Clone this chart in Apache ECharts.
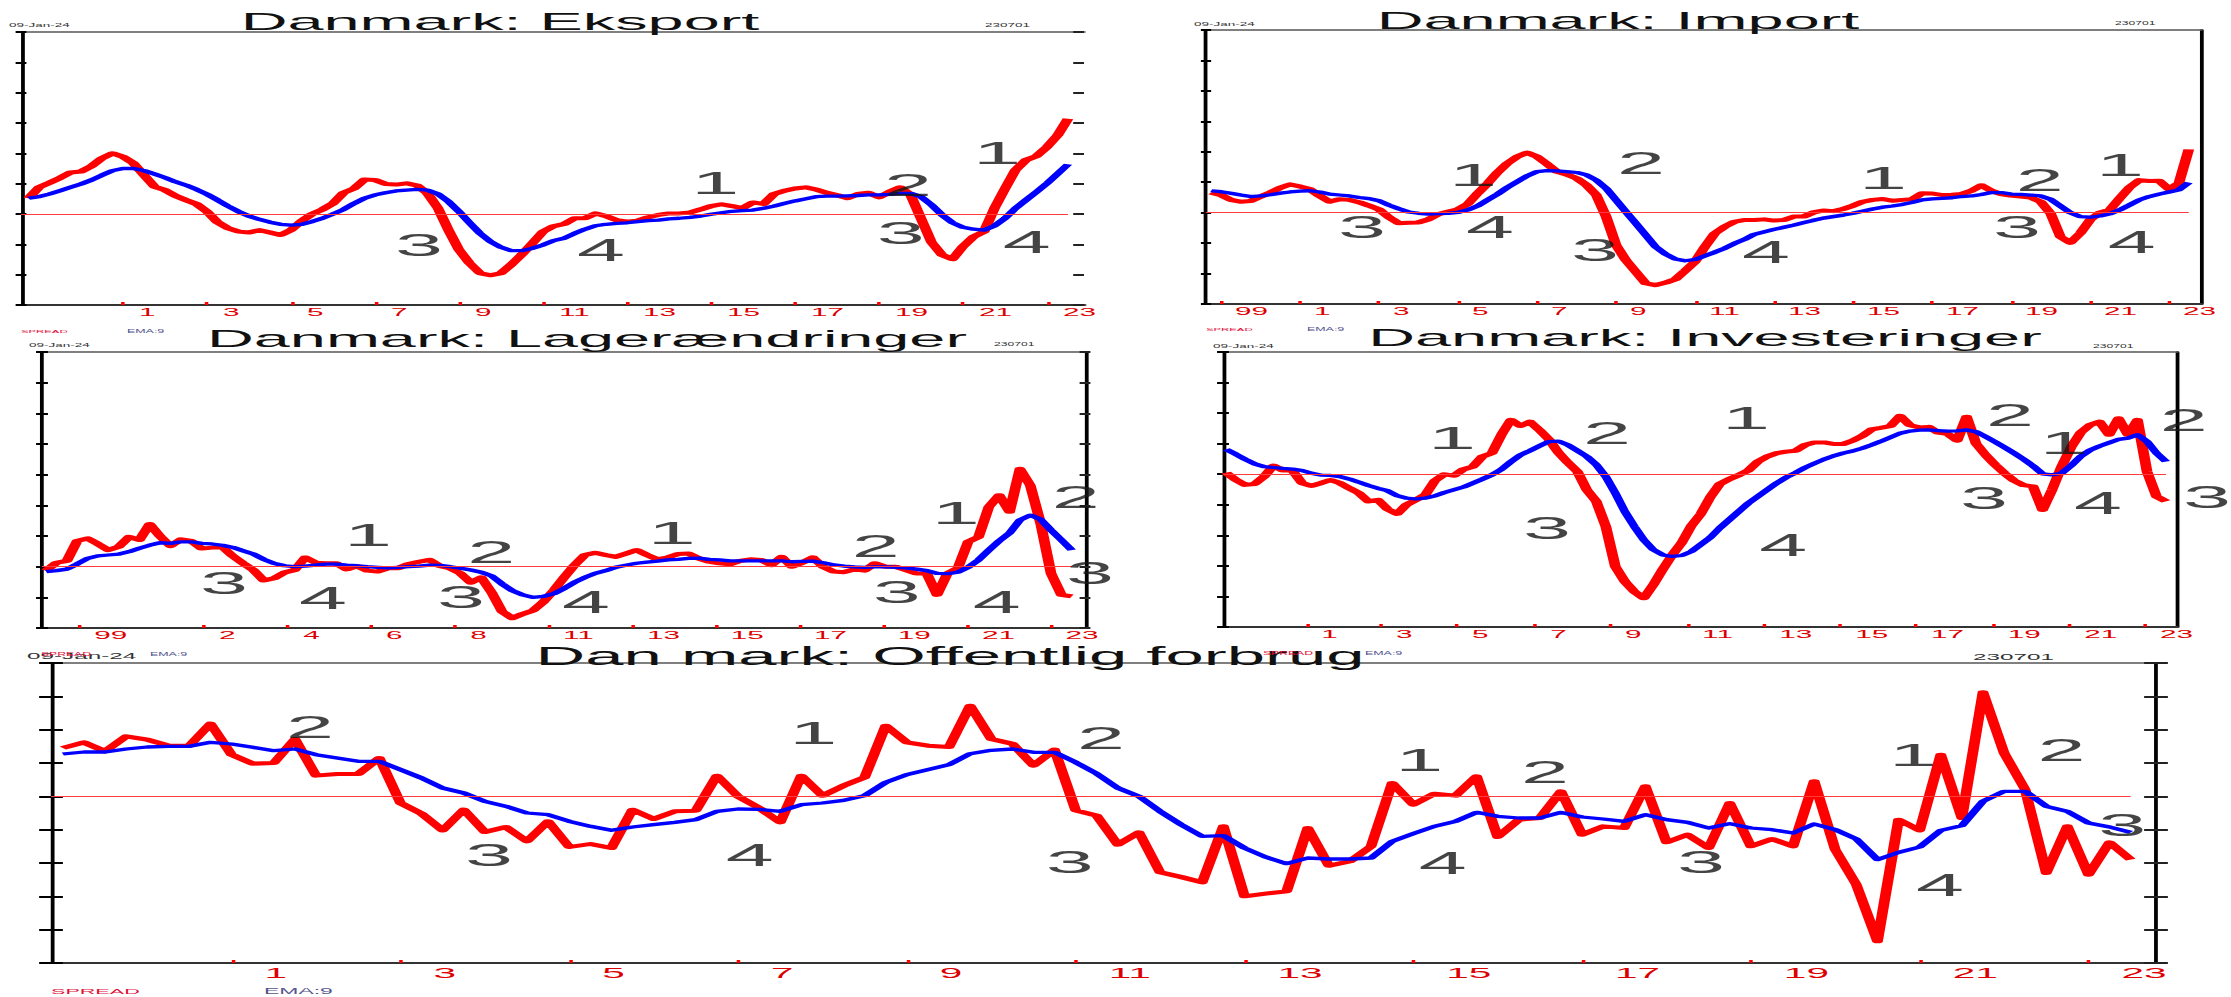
<!DOCTYPE html>
<html><head><meta charset="utf-8">
<script src="https://cdn.jsdelivr.net/npm/echarts@6/dist/echarts.min.js"></script>
<style>
html,body{margin:0;padding:0;background:#fff;overflow:hidden;width:2231px;height:997px}
#chart{height:997px;transform-origin:0 0;}
</style>
</head><body><div id="chart"></div><script>
// ---------------- DATA (quarterly values, in axis-tick units; 0 = red reference line) ----------------
const eksportStart = 1998.75;
const eksportSpread = [0.52,0.88,1.03,1.19,1.37,1.40,1.58,1.84,2.00,1.89,
 1.67,1.28,0.90,0.79,0.60,0.46,0.33,0.08,-0.27,-0.47,
 -0.58,-0.61,-0.53,-0.61,-0.69,-0.53,-0.23,0.00,0.15,0.35,
 0.70,0.84,1.14,1.12,0.99,0.97,1.01,0.94,0.68,0.19,
 -0.53,-1.18,-1.62,-1.95,-2.02,-1.95,-1.66,-1.33,-0.96,-0.58,
 -0.40,-0.33,-0.14,-0.14,0.02,-0.07,-0.20,-0.25,-0.22,-0.11,
 -0.03,0.02,0.02,0.05,0.15,0.26,0.32,0.26,0.19,0.38,
 0.33,0.66,0.77,0.84,0.88,0.81,0.70,0.62,0.52,0.66,
 0.70,0.55,0.73,0.88,0.64,-0.15,-0.93,-1.35,-1.49,-1.07,
 -0.75,-0.58,0.19,0.84,1.45,1.78,1.91,2.21,2.59,3.14];
const eksportEma = [0.52,0.57,0.66,0.77,0.88,0.99,1.12,1.28,1.43,1.50,
 1.50,1.43,1.32,1.20,1.06,0.95,0.81,0.65,0.46,0.26,
 0.08,-0.07,-0.18,-0.27,-0.34,-0.37,-0.34,-0.25,-0.14,0.00,
 0.15,0.35,0.52,0.63,0.70,0.76,0.79,0.81,0.79,0.66,
 0.41,0.08,-0.29,-0.64,-0.91,-1.10,-1.21,-1.21,-1.13,-1.02,
 -0.88,-0.80,-0.64,-0.50,-0.39,-0.34,-0.31,-0.29,-0.25,-0.22,
 -0.20,-0.16,-0.14,-0.11,-0.07,-0.01,0.04,0.09,0.11,0.13,
 0.19,0.26,0.35,0.43,0.50,0.57,0.59,0.59,0.60,0.61,
 0.63,0.63,0.65,0.68,0.68,0.57,0.30,-0.03,-0.29,-0.44,
 -0.50,-0.53,-0.39,-0.14,0.19,0.46,0.73,1.01,1.32,1.64];
const eksportTicks = [2001,2003,2005,2007,2009,2011,2013,2015,2017,2019,2021,2023];
const eksportTickLabels = ['1','3','5','7','9','11','13','15','17','19','21','23'];
const eksportMarks = [[2008.05,-1.02,'3'],[2012.38,-1.18,'4'],[2015.10,1.02,'1'],[2019.69,0.95,'2'],[2019.52,-0.62,'3'],[2021.81,2.00,'1'],[2022.52,-0.92,'4']];

const importStart = 1998.75;
const importSpread = [0.66,0.58,0.42,0.36,0.38,0.53,0.66,0.82,0.93,0.86,
 0.77,0.55,0.36,0.44,0.42,0.34,0.23,0.11,-0.15,-0.35,
 -0.33,-0.32,-0.22,-0.05,0.03,0.11,0.29,0.64,0.96,1.32,
 1.62,1.84,1.97,1.84,1.60,1.35,1.26,1.13,0.91,0.58,
 -0.13,-1.06,-1.56,-1.94,-2.32,-2.38,-2.30,-2.19,-1.91,-1.61,
 -1.12,-0.68,-0.46,-0.30,-0.24,-0.24,-0.22,-0.26,-0.24,-0.13,
 -0.13,0.01,0.07,0.05,0.12,0.23,0.36,0.42,0.45,0.39,
 0.42,0.44,0.64,0.63,0.58,0.59,0.61,0.72,0.90,0.72,
 0.61,0.56,0.53,0.50,0.36,-0.02,-0.79,-0.99,-0.68,-0.24,
 0.00,0.09,0.47,0.83,1.07,1.04,1.05,0.77,0.97,2.08];
const importEma = [0.72,0.69,0.64,0.58,0.53,0.55,0.59,0.64,0.68,0.71,
 0.72,0.68,0.61,0.58,0.55,0.50,0.46,0.39,0.25,0.13,
 0.02,-0.02,-0.05,-0.03,-0.02,0.01,0.09,0.22,0.42,0.61,
 0.83,1.02,1.21,1.35,1.38,1.37,1.35,1.32,1.24,1.07,
 0.80,0.42,0.03,-0.35,-0.73,-1.12,-1.36,-1.52,-1.58,-1.54,
 -1.42,-1.30,-1.17,-1.01,-0.88,-0.71,-0.63,-0.55,-0.48,-0.41,
 -0.33,-0.25,-0.18,-0.13,-0.08,-0.02,0.05,0.12,0.18,0.22,
 0.27,0.34,0.42,0.45,0.47,0.49,0.53,0.55,0.60,0.66,
 0.66,0.61,0.60,0.58,0.55,0.44,0.22,0.00,-0.13,-0.15,
 -0.11,-0.04,0.09,0.25,0.42,0.53,0.61,0.68,0.75,0.99];
const importTicks = [1999,2001,2003,2005,2007,2009,2011,2013,2015,2017,2019,2021,2023];
const importTickLabels = ['99','1','3','5','7','9','11','13','15','17','19','21','23'];
const importMarks = [[2002.57,-0.47,'3'],[2005.38,1.24,'1'],[2005.81,-0.47,'4'],[2009.63,1.63,'2'],[2008.47,-1.23,'3'],[2012.80,-1.29,'4'],[2015.76,1.14,'1'],[2019.73,1.08,'2'],[2019.15,-0.47,'3'],[2021.76,1.57,'1'],[2022.06,-0.96,'4']];

const lagerStart = 1998.75;
const lagerSpread = [-0.13,0.13,0.19,0.84,0.92,0.74,0.54,0.65,0.97,0.87,
 1.39,0.99,0.67,0.89,0.84,0.59,0.62,0.65,0.35,0.11,
 -0.11,-0.45,-0.38,-0.19,-0.11,0.30,0.13,0.11,0.11,-0.09,
 0.02,-0.13,-0.16,-0.05,-0.05,0.09,0.16,0.22,0.02,-0.05,
 -0.22,-0.52,-0.35,-0.84,-1.46,-1.68,-1.54,-1.43,-1.15,-0.77,
 -0.35,0.05,0.38,0.45,0.38,0.32,0.43,0.54,0.38,0.24,
 0.30,0.41,0.43,0.27,0.16,0.11,0.08,0.19,0.24,0.22,
 0.05,0.32,0.00,0.13,0.30,0.00,-0.16,-0.18,-0.09,-0.13,
 0.11,0.00,0.00,-0.11,-0.22,-0.22,-0.92,-0.22,-0.05,0.81,
 0.97,1.95,2.33,1.79,3.19,2.65,1.41,-0.22,-0.92,-0.97];
const lagerEma = [-0.16,-0.13,-0.08,0.09,0.27,0.35,0.38,0.41,0.49,0.60,
 0.70,0.78,0.76,0.81,0.81,0.76,0.74,0.70,0.63,0.52,
 0.41,0.24,0.11,0.03,0.00,0.02,0.05,0.08,0.08,0.05,
 0.03,0.00,-0.02,-0.04,-0.02,0.00,0.02,0.05,0.04,0.00,
 -0.05,-0.11,-0.18,-0.30,-0.56,-0.78,-0.92,-1.00,-0.97,-0.88,
 -0.71,-0.51,-0.35,-0.22,-0.13,-0.02,0.05,0.11,0.15,0.18,
 0.22,0.24,0.27,0.28,0.24,0.22,0.19,0.19,0.19,0.19,
 0.19,0.19,0.16,0.17,0.18,0.13,0.06,0.02,-0.01,-0.02,
 -0.01,-0.01,-0.02,-0.04,-0.08,-0.13,-0.22,-0.23,-0.18,-0.02,
 0.22,0.54,0.84,1.10,1.52,1.68,1.54,1.19,0.87,0.54];
const lagerTicks = [1999.55,2002.56,2004.59,2006.59,2008.62,2010.86,2012.89,2014.91,2016.92,2018.94,2020.97,2022.99];
const lagerTickLabels = ['99','2','4','6','8','11','13','15','17','19','21','23'];
const lagerMarks = [[2003.04,-0.53,'3'],[2006.52,1.03,'1'],[2005.43,-1.02,'4'],[2009.49,0.48,'2'],[2008.76,-0.98,'3'],[2011.78,-1.15,'4'],[2013.85,1.10,'1'],[2018.77,0.67,'2'],[2019.28,-0.82,'3'],[2020.70,1.75,'1'],[2021.69,-1.15,'4'],[2023.60,2.26,'2'],[2023.94,-0.21,'3']];

const invStart = 1998.75;
const invSpread = [0.05,-0.18,-0.35,-0.32,-0.08,0.28,0.12,0.12,-0.29,-0.38,
 -0.29,-0.19,-0.29,-0.46,-0.62,-0.89,-0.84,-1.14,-1.30,-1.00,
 -0.84,-0.67,-0.21,0.00,-0.05,0.16,0.25,0.58,0.69,1.29,
 1.78,1.58,1.72,1.45,1.14,0.71,0.38,0.09,-0.51,-0.89,
 -1.71,-3.02,-3.51,-3.84,-4.06,-3.62,-3.11,-2.64,-2.24,-1.69,
 -1.30,-0.75,-0.32,-0.16,-0.03,0.12,0.41,0.58,0.69,0.74,
 0.77,0.96,1.04,1.04,0.99,0.99,1.10,1.25,1.47,1.52,
 1.58,1.91,1.61,1.53,1.55,1.36,1.32,1.10,1.88,1.00,
 0.63,0.31,0.03,-0.21,-0.36,-0.40,-1.17,-0.51,0.25,0.88,
 1.36,1.61,1.72,1.29,1.83,1.29,1.78,0.09,-0.73,-0.89];
const invEma = [0.82,0.66,0.49,0.34,0.25,0.22,0.19,0.17,0.12,0.03,
 -0.03,-0.04,-0.08,-0.16,-0.26,-0.37,-0.46,-0.54,-0.70,-0.78,
 -0.81,-0.78,-0.71,-0.60,-0.51,-0.42,-0.29,-0.16,-0.02,0.16,
 0.41,0.63,0.77,0.92,1.07,1.08,0.96,0.77,0.58,0.31,
 -0.08,-0.62,-1.22,-1.71,-2.15,-2.47,-2.64,-2.69,-2.66,-2.53,
 -2.30,-2.07,-1.76,-1.49,-1.22,-0.95,-0.73,-0.51,-0.29,-0.10,
 0.05,0.22,0.36,0.49,0.60,0.69,0.76,0.85,0.96,1.08,
 1.21,1.34,1.41,1.44,1.45,1.43,1.41,1.42,1.45,1.39,
 1.23,1.06,0.88,0.69,0.49,0.27,0.01,-0.02,0.03,0.28,
 0.58,0.79,0.92,1.03,1.14,1.18,1.29,1.07,0.69,0.41];
const invTicks = [2000.86,2002.83,2004.83,2006.89,2008.86,2010.89,2012.92,2014.92,2016.92,2018.94,2020.95,2022.95];
const invTickLabels = ['1','3','5','7','9','11','13','15','17','19','21','23'];
const invMarks = [[2004.70,1.19,'1'],[2008.78,1.35,'2'],[2007.20,-1.77,'3'],[2012.44,1.84,'1'],[2013.42,-2.31,'4'],[2019.39,1.93,'2'],[2018.71,-0.77,'3'],[2020.81,1.02,'1'],[2021.71,-0.94,'4'],[2023.97,1.78,'2'],[2024.58,-0.74,'3']];

const offStart = 1999.0;
const offSpread = [1.45,1.62,1.35,1.80,1.70,1.52,1.52,2.18,1.25,0.98,
 1.00,1.72,0.62,0.67,0.67,1.15,-0.20,-0.52,-1.02,-0.40,
 -1.07,-0.92,-1.35,-0.75,-1.52,-1.43,-1.55,-0.40,-0.68,-0.45,
 -0.43,0.62,0.00,-0.35,-0.78,0.62,0.02,0.32,0.57,2.12,
 1.62,1.52,1.48,2.72,1.72,1.58,0.92,1.40,-0.42,-0.58,
 -1.45,-1.08,-2.28,-2.42,-2.58,-0.90,-3.00,-2.92,-2.85,-0.95,
 -2.08,-1.95,-1.50,0.40,-0.25,0.08,0.02,0.60,-1.22,-0.70,
 -0.65,0.15,-1.15,-0.90,-0.95,0.30,-1.38,-1.15,-1.55,-0.20,
 -1.50,-1.28,-1.50,0.45,-1.60,-2.65,-4.35,-0.70,-1.02,1.25,
 -0.65,3.12,1.30,0.20,-2.30,-0.90,-2.35,-1.38,-1.90];
const offEma = [1.27,1.33,1.33,1.42,1.48,1.50,1.50,1.62,1.57,1.47,
 1.37,1.42,1.25,1.15,1.05,1.05,0.80,0.55,0.25,0.10,
 -0.15,-0.30,-0.50,-0.55,-0.75,-0.90,-1.02,-0.92,-0.85,-0.78,
 -0.70,-0.45,-0.38,-0.39,-0.45,-0.25,-0.20,-0.12,0.02,0.42,
 0.65,0.80,0.95,1.28,1.38,1.42,1.32,1.32,1.02,0.68,
 0.25,0.00,-0.45,-0.85,-1.20,-1.18,-1.55,-1.82,-2.02,-1.85,
 -1.88,-1.88,-1.85,-1.35,-1.12,-0.90,-0.75,-0.48,-0.60,-0.65,
 -0.65,-0.48,-0.62,-0.68,-0.75,-0.55,-0.70,-0.78,-0.95,-0.82,
 -0.95,-1.00,-1.10,-0.83,-1.00,-1.28,-1.90,-1.68,-1.52,-1.02,
 -0.88,-0.15,0.15,0.15,-0.30,-0.45,-0.80,-0.92,-1.08];
const offTicks = [2001,2003,2005,2007,2009,2011,2013,2015,2017,2019,2021,2023];
const offTickLabels = ['1','3','5','7','9','11','13','15','17','19','21','23'];
const offMarks = [[2001.93,2.09,'2'],[2004.05,-1.75,'3'],[2007.14,-1.75,'4'],[2007.89,1.91,'1'],[2011.30,1.76,'2'],[2010.93,-1.97,'3'],[2015.07,1.10,'1'],[2015.35,-1.99,'4'],[2016.56,0.74,'2'],[2018.41,-1.97,'3'],[2020.92,1.25,'1'],[2021.24,-2.65,'4'],[2022.68,1.40,'2'],[2023.40,-0.85,'3']];

// ---------------- LAYOUT (reference pixel coords; the drawing is stretched horizontally by S) ----------------
const S = 2.7, W = 2231, H = 997, W0 = W / S;
const FONT = '"Liberation Sans", Arial, Helvetica, sans-serif';
const panelsData = [
  {spread: eksportSpread, ema: eksportEma, start: eksportStart, ticks: eksportTicks, tickLabels: eksportTickLabels, marks: eksportMarks},
  {spread: importSpread, ema: importEma, start: importStart, ticks: importTicks, tickLabels: importTickLabels, marks: importMarks},
  {spread: lagerSpread, ema: lagerEma, start: lagerStart, ticks: lagerTicks, tickLabels: lagerTickLabels, marks: lagerMarks},
  {spread: invSpread, ema: invEma, start: invStart, ticks: invTicks, tickLabels: invTickLabels, marks: invMarks},
  {spread: offSpread, ema: offEma, start: offStart, ticks: offTicks, tickLabels: offTickLabels, marks: offMarks}
];
const layout = [
  {title:'Danmark: Eksport', tx:500, ty:21.5, tsize:24, box:[21,32,1084,305], xr:[1998.571,2023.881], yr:[-3,6], lt:2, rightLine:false, rt:'inside', rlen:4, labelDx:16, labelSize:11},
  {title:'Danmark: Import', tx:1618, ty:20.5, tsize:24, box:[1206,30,2201,304], xr:[1998.62,2023.81], yr:[-3,6], lt:1.9, rightLine:true, rt:'none', rlen:0, labelDx:14, labelSize:11},
  {title:'Danmark: Lagerændringer', tx:587, ty:338.5, tsize:24, box:[42,352,1085,628], xr:[1998.65,2023.82], yr:[-2,7], lt:2.2, rightLine:true, rt:'cross', rlen:2, labelDx:15, labelSize:11},
  {title:'Danmark: Investeringer', tx:1705, ty:338, tsize:24, box:[1223,352,2177,627], xr:[1998.67,2023.79], yr:[-5,4], lt:2.2, rightLine:true, rt:'none', rlen:0, labelDx:15, labelSize:11},
  {title:'Dan mark: Offentlig forbrug', tx:950, ty:656.5, tsize:25.5, box:[51,663,2156,963], xr:[1998.86,2023.80], yr:[-5,4], lt:4.4, rightLine:true, rt:'cross', rlen:4.4, labelDx:33, labelSize:15}
];
const RED = '#e0103a', NAVY = '#55558f', GREY = '#333333';
const smallTexts = [
  ['09-Jan-24', 9, 25, 5, GREY], ['230701', 985, 25, 5, GREY],
  ['09-Jan-24', 1194, 24, 5, GREY], ['230701', 2115, 24, 4.5, GREY],
  ['SPREAD', 21, 332, 4.2, RED], ['EMA:9', 127, 332, 4.6, NAVY],
  ['SPREAD', 1206, 330, 4.2, RED], ['EMA:9', 1307, 330, 4.6, NAVY],
  ['09-Jan-24', 29, 345, 5, GREY], ['230701', 994, 345, 4.5, GREY],
  ['09-Jan-24', 1213, 346, 5, GREY], ['230701', 2093, 347, 4.5, GREY],
  ['09-Jan-24', 27, 656, 9, GREY], ['SPREAD', 41, 655, 4.5, RED], ['EMA:9', 150, 655, 4.6, NAVY],
  ['SPREAD', 1263, 654, 4.5, RED], ['EMA:9', 1365, 654, 4.6, NAVY], ['230701', 1973, 657, 9, GREY],
  ['SPREAD', 51, 991, 8, RED], ['EMA:9', 264, 991, 8.5, NAVY]
];

const dom = document.getElementById('chart');
dom.style.width = W0 + 'px';
dom.style.transform = 'scaleX(' + S + ')';
const chart = echarts.init(dom, null, {renderer: 'svg', width: W0, height: H});

const grids = [], xAxes = [], yAxes = [], series = [], graphics = [];
layout.forEach((L, k) => {
  const D = panelsData[k];
  const [x0, y0, x1, y1] = L.box;
  grids.push({left: x0 / S, top: y0, width: (x1 - x0) / S, height: y1 - y0, containLabel: false});
  const ppy = (x1 - x0) / (L.xr[1] - L.xr[0]);
  const labelVals = D.ticks.map(t => +(t + L.labelDx / ppy).toFixed(4));
  const xi = xAxes.length;
  xAxes.push({type: 'value', gridIndex: k, min: L.xr[0], max: L.xr[1], position: 'bottom',
    axisLine: {show: true, onZero: false, lineStyle: {color: '#333', width: 2}},
    axisTick: {show: true, inside: true, length: 3, customValues: D.ticks, lineStyle: {color: '#ff0000', width: 1.3}},
    axisLabel: {show: true, customValues: labelVals, align: 'left', margin: 2, color: '#dd0000', fontSize: L.labelSize, fontFamily: FONT,
      formatter: v => { const j = labelVals.findIndex(u => Math.abs(u - v) < 1e-3); return j >= 0 ? D.tickLabels[j] : ''; }},
    splitLine: {show: false}});
  xAxes.push({type: 'value', gridIndex: k, min: L.xr[0], max: L.xr[1], position: 'top',
    axisLine: {show: true, onZero: false, lineStyle: {color: '#555', width: 1.6}},
    axisTick: {show: false}, axisLabel: {show: false}, splitLine: {show: false}});
  const yi = yAxes.length;
  const yBase = () => ({type: 'value', gridIndex: k, min: L.yr[0], max: L.yr[1], interval: 1, axisLabel: {show: false}, splitLine: {show: false}});
  yAxes.push(Object.assign(yBase(), {position: 'left', axisLine: {show: true, onZero: false, lineStyle: {color: '#000', width: 1.4}},
    axisTick: {show: true, inside: false, length: L.lt, lineStyle: {color: '#000', width: 2}}}));
  yAxes.push(Object.assign(yBase(), {position: 'left', axisLine: {show: false},
    axisTick: {show: true, inside: true, length: L.lt, lineStyle: {color: '#000', width: 2}}}));
  yAxes.push(Object.assign(yBase(), {position: 'right', axisLine: {show: L.rightLine, onZero: false, lineStyle: {color: '#000', width: 1.4}},
    axisTick: {show: L.rt !== 'none', inside: L.rt === 'inside', length: L.rlen, lineStyle: {color: '#222', width: 2}}}));
  if (L.rt === 'cross') {
    yAxes.push(Object.assign(yBase(), {position: 'right', axisLine: {show: false},
      axisTick: {show: true, inside: true, length: L.rlen, lineStyle: {color: '#222', width: 2}}}));
  }
  const lastX = D.start + (D.spread.length - 1) * 0.25;
  series.push({type: 'line', xAxisIndex: xi, yAxisIndex: yi, data: D.spread.map((v, i) => [D.start + i * 0.25, v]),
    showSymbol: false, symbol: 'none', lineStyle: {color: '#ff0000', width: 4, join: 'round'}, itemStyle: {color: '#ff0000'}, z: 3,
    markLine: {silent: true, symbol: ['none', 'none'], label: {show: false}, animation: false,
      lineStyle: {color: '#ff3b3b', width: 1.2, type: 'solid'},
      data: [[{coord: [L.xr[0], 0]}, {coord: [lastX, 0]}]]}});
  series.push({type: 'line', xAxisIndex: xi, yAxisIndex: yi, data: D.ema.map((v, i) => [D.start + i * 0.25, v]),
    showSymbol: false, symbol: 'none', lineStyle: {color: '#0000ff', width: 3.3, join: 'round'}, itemStyle: {color: '#0000ff'}, z: 4});
  series.push({type: 'scatter', xAxisIndex: xi, yAxisIndex: yi, data: D.marks, symbolSize: 1, clip: false, silent: true, z: 5,
    itemStyle: {color: 'rgba(0,0,0,0)'},
    label: {show: true, position: 'inside', formatter: p => String(p.value[2]), fontSize: 32, color: '#151515', fontFamily: FONT}});
  graphics.push({type: 'text', x: L.tx / S, y: L.ty, z: 10,
    style: {text: L.title, fontSize: L.tsize, fontFamily: FONT, fill: '#111', align: 'center', verticalAlign: 'middle', textAlign: 'center', textVerticalAlign: 'middle'}});
});
smallTexts.forEach(t => {
  graphics.push({type: 'text', x: t[1] / S, y: t[2], z: 10,
    style: {text: t[0], fontSize: t[3], fontFamily: FONT, fill: t[4], align: 'left', verticalAlign: 'middle', textAlign: 'left', textVerticalAlign: 'middle'}});
});

chart.setOption({
  animation: false,
  backgroundColor: '#ffffff',
  grid: grids, xAxis: xAxes, yAxis: yAxes, series: series,
  graphic: {elements: graphics}
});
</script></body></html>
